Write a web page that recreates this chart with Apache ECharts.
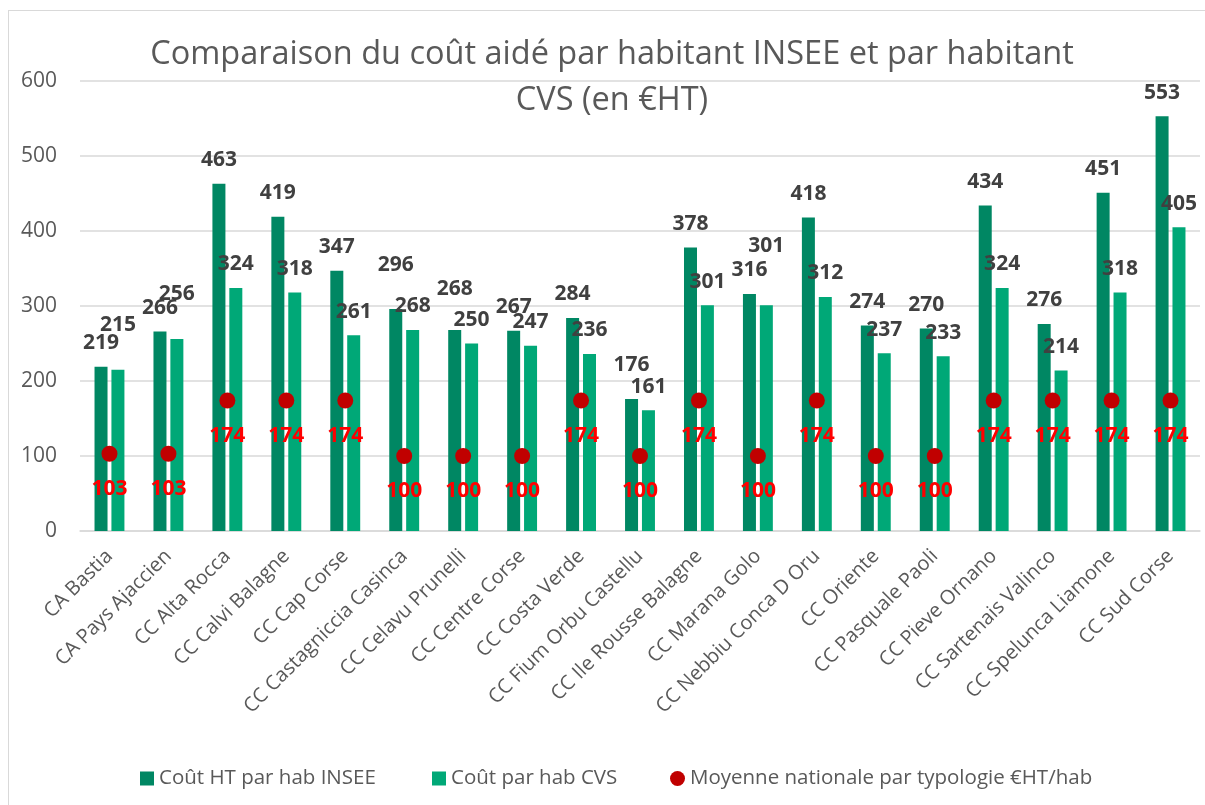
<!DOCTYPE html>
<html>
<head>
<meta charset="utf-8">
<script src="https://cdn.jsdelivr.net/npm/echarts@6/dist/echarts.min.js"></script>
<style>
  html, body { margin: 0; padding: 0; background: #fff; }
  #chart { position: absolute; left: 0; top: 0; width: 1205px; height: 805px; }
  #frame { position: absolute; left: 8px; top: 10px; width: 1205px; height: 805px; border: 1px solid #d9d9d9; box-sizing: border-box; pointer-events: none; }
</style>
</head>
<body>
<div id="chart"></div>
<div id="frame"></div>
<script>
// données
const categories = [
  'CA Bastia', 'CA Pays Ajaccien', 'CC Alta Rocca', 'CC Calvi Balagne', 'CC Cap Corse',
  'CC Castagniccia Casinca', 'CC Celavu Prunelli', 'CC Centre Corse', 'CC Costa Verde',
  'CC Fium Orbu Castellu', 'CC Ile Rousse Balagne', 'CC Marana Golo', 'CC Nebbiu Conca D Oru',
  'CC Oriente', 'CC Pasquale Paoli', 'CC Pieve Ornano', 'CC Sartenais Valinco',
  'CC Spelunca Liamone', 'CC Sud Corse',
]
const coutInsee = [219, 266, 463, 419, 347, 296, 268, 267, 284, 176, 378, 316, 418, 274, 270, 434, 276, 451, 553]
const coutCvs = [215, 256, 324, 318, 261, 268, 250, 247, 236, 161, 301, 301, 312, 237, 233, 324, 214, 318, 405]
const moyenne = [103, 103, 174, 174, 174, 100, 100, 100, 174, 100, 174, 100, 174, 100, 100, 174, 174, 174, 174]
const yTicks = [0, 100, 200, 300, 400, 500, 600]
const seriesNames = ['Coût HT par hab INSEE', 'Coût par hab CVS', 'Moyenne nationale par typologie €HT/hab']
const titleLines = ['Comparaison du coût aidé par habitant INSEE et par habitant', 'CVS (en €HT)']

// étiquettes déplacées à la main dans l'original
const nudgeInsee = { 5: 20, 6: 17, 9: 10 }
const nudgeCvs = { 0: 21, 1: 21, 11: 36 }

const gray = '#595959'
const font = 'Open Sans'

const withNudge = (values, nudge) => values.map((v, i) => (
  nudge[i] ? { value: v, label: { distance: 13 + nudge[i] } } : v
))

const barLabel = {
  show: true,
  position: 'top',
  distance: 13,
  color: '#404040',
  fontFamily: font,
  fontWeight: 'bold',
  fontSize: 21,
}

// titre sur deux lignes, centré un peu à droite comme dans l'original
const titles = titleLines.map((text, i) => ({
  text,
  left: 612,
  top: 38 + i * 46,
  padding: 0,
  textAlign: 'center',
  textStyle: {
    color: gray,
    fontFamily: font,
    fontWeight: 'normal',
    fontSize: 32.5,
  },
}))

// une légende par entrée, pour garder les écarts de l'original
const legendLeft = [135, 427, 665]
const legendIcon = ['rect', 'rect', 'circle']
const legends = seriesNames.map((name, i) => ({
  left: legendLeft[i],
  top: 763,
  itemWidth: i === 2 ? 15 : 14,
  itemHeight: i === 2 ? 15 : 14,
  itemGap: 5,
  textStyle: { color: gray, fontFamily: font, fontSize: 20.5 },
  data: [{ name, icon: legendIcon[i] }],
}))

const chart = echarts.init(document.getElementById('chart'))
chart.setOption({
  animation: false,
  title: titles,
  legend: legends,
  grid: { left: 80, right: 5, top: 81, bottom: 274 },
  xAxis: {
    type: 'category',
    data: categories,
    axisLine: { lineStyle: { color: '#d9d9d9', width: 1.5 } },
    axisTick: { show: false },
    axisLabel: {
      interval: 0,
      rotate: 45,
      margin: 22,
      color: gray,
      fontFamily: font,
      fontSize: 20,
    },
  },
  yAxis: {
    type: 'value',
    min: yTicks[0],
    max: yTicks[yTicks.length - 1],
    interval: 100,
    axisLine: { show: false },
    axisTick: { show: false },
    splitLine: { lineStyle: { color: '#d9d9d9', width: 1.5 } },
    axisLabel: { margin: 23, color: gray, fontFamily: font, fontSize: 21 },
  },
  series: [
    {
      name: seriesNames[0],
      type: 'bar',
      data: withNudge(coutInsee, nudgeInsee),
      barWidth: 13,
      barGap: '30%',
      itemStyle: { color: '#008763' },
      label: barLabel,
    },
    {
      name: seriesNames[1],
      type: 'bar',
      data: withNudge(coutCvs, nudgeCvs),
      barWidth: 13,
      itemStyle: { color: '#00a877' },
      label: barLabel,
    },
    {
      name: seriesNames[2],
      type: 'scatter',
      data: moyenne,
      symbolSize: 16,
      itemStyle: { color: '#c00000', opacity: 1 },
      z: 5,
      label: {
        show: true,
        position: 'bottom',
        distance: 17,
        color: '#ff0000',
        fontFamily: font,
        fontWeight: 'bold',
        fontSize: 21,
      },
    },
  ],
})
</script>
</body>
</html>
